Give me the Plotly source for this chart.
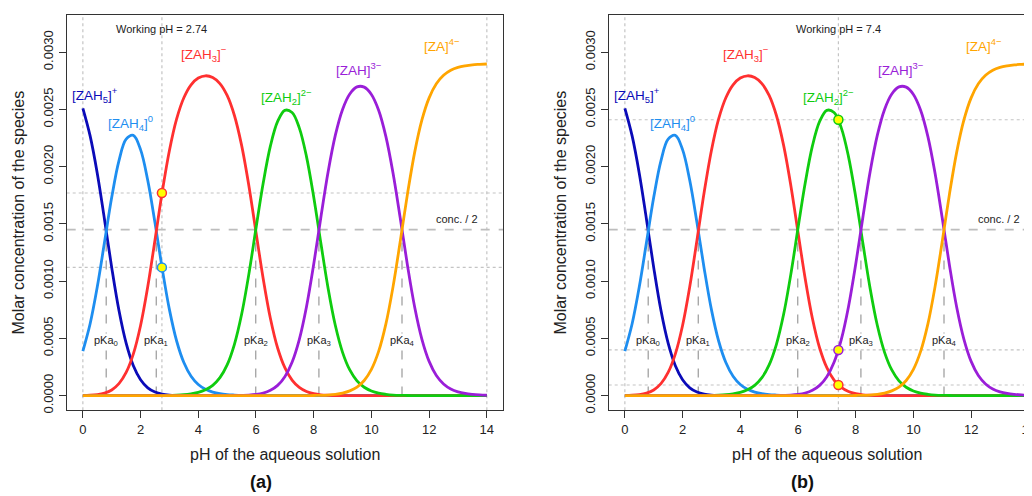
import plotly.graph_objects as go

# ---------------- data ----------------
ph = [0, 0.25, 0.5, 0.75, 1, 1.25, 1.5, 1.75, 2, 2.25, 2.5, 2.75,
      3, 3.25, 3.5, 3.75, 4, 4.25, 4.5, 4.75, 5, 5.25, 5.5, 5.75,
      6, 6.25, 6.5, 6.75, 7, 7.25, 7.5, 7.75, 8, 8.25, 8.5, 8.75,
      9, 9.25, 9.5, 9.75, 10, 10.25, 10.5, 10.75, 11, 11.25, 11.5, 11.75,
      12, 12.25, 12.5, 12.75, 13, 13.25, 13.5, 13.75, 14]

zah5 = [0.002510, 0.002271, 0.001941, 0.001539,
        0.001118, 0.000745, 0.000458, 0.000261,
        0.000139, 0.000068, 0.000031, 0.000013,
        0.000005, 0.000002, 0.000001, 0,
        0, 0, 0, 0,
        0, 0, 0, 0,
        0, 0, 0, 0,
        0, 0, 0, 0,
        0, 0, 0, 0,
        0, 0, 0, 0,
        0, 0, 0, 0,
        0, 0, 0, 0,
        0, 0, 0, 0,
        0, 0, 0, 0,
        0]

zah4 = [0.000389, 0.000626, 0.000951, 0.001340,
        0.001732, 0.002051, 0.002240, 0.002274,
        0.002149, 0.001879, 0.001509, 0.001109,
        0.000751, 0.000477, 0.000289, 0.000169,
        0.000097, 0.000055, 0.000031, 0.000017,
        0.000009, 0.000005, 0.000002, 0.000001,
        0, 0, 0, 0,
        0, 0, 0, 0,
        0, 0, 0, 0,
        0, 0, 0, 0,
        0, 0, 0, 0,
        0, 0, 0, 0,
        0, 0, 0, 0,
        0, 0, 0, 0,
        0]

zah3 = [0.000001, 0.000003, 0.000009, 0.000022,
        0.000049, 0.000104, 0.000202, 0.000365,
        0.000613, 0.000953, 0.001360, 0.001778,
        0.002142, 0.002417, 0.002602, 0.002715,
        0.002774, 0.002794, 0.002779, 0.002726,
        0.002622, 0.002449, 0.002188, 0.001838,
        0.001428, 0.001021, 0.000674, 0.000416,
        0.000244, 0.000136, 0.000072, 0.000036,
        0.000017, 0.000007, 0.000003, 0.000001,
        0, 0, 0, 0,
        0, 0, 0, 0,
        0, 0, 0, 0,
        0, 0, 0, 0,
        0, 0, 0, 0,
        0]

zah2 = [0, 0, 0, 0,
        0, 0, 0, 0,
        0, 0, 0, 0,
        0.000002, 0.000004, 0.000008, 0.000016,
        0.000028, 0.000051, 0.000090, 0.000157,
        0.000268, 0.000446, 0.000708, 0.001057,
        0.001462, 0.001857, 0.002181, 0.002395,
        0.002492, 0.002473, 0.002339, 0.002088,
        0.001735, 0.001329, 0.000936, 0.000612,
        0.000378, 0.000224, 0.000129, 0.000073,
        0.000040, 0.000021, 0.000011, 0.000005,
        0.000002, 0.000001, 0, 0,
        0, 0, 0, 0,
        0, 0, 0, 0,
        0]

zah1 = [0, 0, 0, 0,
        0, 0, 0, 0,
        0, 0, 0, 0,
        0, 0, 0, 0,
        0, 0, 0, 0,
        0, 0.000001, 0.000002, 0.000004,
        0.000010, 0.000022, 0.000046, 0.000089,
        0.000165, 0.000291, 0.000489, 0.000776,
        0.001147, 0.001561, 0.001956, 0.002275,
        0.002500, 0.002635, 0.002697, 0.002695,
        0.002631, 0.002493, 0.002265, 0.001943,
        0.001549, 0.001137, 0.000772, 0.000492,
        0.000299, 0.000176, 0.000102, 0.000058,
        0.000033, 0.000019, 0.000011, 0.000006,
        0.000003]

za = [0, 0, 0, 0,
      0, 0, 0, 0,
      0, 0, 0, 0,
      0, 0, 0, 0,
      0, 0, 0, 0,
      0, 0, 0, 0,
      0, 0, 0, 0,
      0, 0, 0, 0,
      0.000001, 0.000002, 0.000005, 0.000011,
      0.000022, 0.000041, 0.000074, 0.000132,
      0.000229, 0.000386, 0.000624, 0.000952,
      0.001349, 0.001762, 0.002127, 0.002408,
      0.002601, 0.002724, 0.002798, 0.002842,
      0.002867, 0.002881, 0.002890, 0.002894,
      0.002897]

species_labels = ["[ZAH<sub>5</sub>]<sup>+</sup>", "[ZAH<sub>4</sub>]<sup>0</sup>",
                  "[ZAH<sub>3</sub>]<sup>−</sup>", "[ZAH<sub>2</sub>]<sup>2−</sup>",
                  "[ZAH]<sup>3−</sup>", "[ZA]<sup>4−</sup>"]
label_ph = [0.42, 1.66, 4.2, 7.05, 9.58, 12.45]
label_conc = [0.00263, 0.00238, 0.00298, 0.00261, 0.00285, 0.00306]

pka_values = [0.81, 2.545, 5.99, 8.18, 11.06]
pka_labels = ["pKa<sub>0</sub>", "pKa<sub>1</sub>", "pKa<sub>2</sub>", "pKa<sub>3</sub>", "pKa<sub>4</sub>"]
half_conc = 0.00145

working_ph = [2.74, 7.4]
working_labels = ["Working pH = 2.74", "Working pH = 7.4"]
marker_conc_a = [0.00177, 0.00112]
marker_conc_b = [0.00241, 0.000399, 0.0000925]

x_ticks = [0, 2, 4, 6, 8, 10, 12, 14]
y_ticks = [0, 0.0005, 0.0010, 0.0015, 0.0020, 0.0025, 0.0030]
y_ticktext = ["0.0000", "0.0005", "0.0010", "0.0015", "0.0020", "0.0025", "0.0030"]

# ---------------- styles ----------------
colors = ["#0b0bb8", "#1e8ef0", "#ff3030", "#0fcc0f", "#9a1ed8", "#ffa500"]
series = [zah5, zah4, zah3, zah2, zah1, za]
marker_colors_a = [colors[2], colors[1]]
marker_colors_b = [colors[3], colors[4], colors[2]]
FONT = "Liberation Sans, Arial, sans-serif"
TXT = "#222222"
FRAME = "#333333"

W, H = 1032, 496
OFF = 8  # page body margin of the html page


def fx(px):
    return (px - OFF) / W


def fy(py):
    return 1 - (py - OFF) / H


ybot, ytop = 412.7, 14.7
dom_y = [fy(ybot), fy(ytop)]
dom_xa = [fx(66.7), fx(503.0)]
dom_xb = [fx(608.7), 1.0]
px_per_unit = (503.0 - 66.7) / 15.12
xr_a = [-0.56, 14.56]
xr_b = [-0.56, -0.56 + (W + OFF - 608.7) / px_per_unit]
yr = [-0.000128, 0.003328]

fig = go.Figure()

panels = [
    dict(xa="x", ya="y", wph=working_ph[0], wlab=working_labels[0],
         mc=marker_conc_a, mcol=marker_colors_a, title_x=285, ytitle_x=18, tag="(a)", tag_x=261),
    dict(xa="x2", ya="y2", wph=working_ph[1], wlab=working_labels[1],
         mc=marker_conc_b, mcol=marker_colors_b, title_x=826.7, ytitle_x=560, tag="(b)", tag_x=802.7),
]

shapes = []
annotations = []

for i, p in enumerate(panels):
    xa, ya = p["xa"], p["ya"]
    for s, c in zip(series, colors):
        fig.add_trace(go.Scatter(x=ph, y=s, mode="lines", xaxis=xa, yaxis=ya,
                                 line=dict(color=c, width=2.8, shape="spline", smoothing=1.0),
                                 showlegend=False, hoverinfo="skip"))
    fig.add_trace(go.Scatter(x=[p["wph"]] * len(p["mc"]), y=p["mc"], mode="markers",
                             xaxis=xa, yaxis=ya, showlegend=False, hoverinfo="skip",
                             marker=dict(size=9, color="#ffff00",
                                         line=dict(color=p["mcol"], width=1.5))))

    xdom = xa + " domain"
    ydom = ya + " domain"
    for xv in [x_ticks[0], x_ticks[-1], p["wph"]]:
        shapes.append(dict(type="line", xref=xa, yref=ydom, x0=xv, x1=xv, y0=0, y1=1,
                           line=dict(color="#c4c4c4", width=1.2, dash="dot"), layer="below"))
    for yv in p["mc"]:
        shapes.append(dict(type="line", xref=xdom, yref=ya, x0=0, x1=1, y0=yv, y1=yv,
                           line=dict(color="#c4c4c4", width=1.2, dash="dot"), layer="below"))
    shapes.append(dict(type="line", xref=xdom, yref=ya, x0=0, x1=1, y0=half_conc, y1=half_conc,
                       line=dict(color="#bdbdbd", width=1.6, dash="dash"), layer="below"))
    for pk in pka_values:
        shapes.append(dict(type="line", xref=xa, yref=ya, x0=pk, x1=pk, y0=0, y1=half_conc,
                           line=dict(color="#a8a8a8", width=1.4, dash="dash"), layer="below"))

    for lab, lx, ly, c in zip(species_labels, label_ph, label_conc, colors):
        annotations.append(dict(x=lx, y=ly, xref=xa, yref=ya, text=lab, showarrow=False,
                                xanchor="center", yanchor="middle",
                                font=dict(family=FONT, size=13.5, color=c)))
    for pk, lab in zip(pka_values, pka_labels):
        annotations.append(dict(x=pk, y=0.00048, xref=xa, yref=ya, text=lab, showarrow=False,
                                xanchor="center", yanchor="middle", bgcolor="white", borderpad=0,
                                font=dict(family=FONT, size=11, color=TXT)))
    annotations.append(dict(x=13.76, y=0.00154, xref=xa, yref=ya, text="conc. / 2",
                            showarrow=False, xanchor="right", yanchor="middle",
                            font=dict(family=FONT, size=11, color=TXT)))
    annotations.append(dict(x=p["wph"], y=0.0032, xref=xa, yref=ya, text=p["wlab"],
                            showarrow=False, xanchor="center", yanchor="middle",
                            font=dict(family=FONT, size=11, color=TXT)))
    annotations.append(dict(x=fx(p["title_x"]), y=fy(457), xref="paper", yref="paper",
                            text="pH of the aqueous solution", showarrow=False,
                            xanchor="center", yanchor="middle",
                            font=dict(family=FONT, size=16, color=TXT)))
    annotations.append(dict(x=fx(p["ytitle_x"]), y=fy(213.7), xref="paper", yref="paper",
                            text="Molar concentration of the species", showarrow=False,
                            xanchor="center", yanchor="middle",
                            textangle=-90, font=dict(family=FONT, size=16, color=TXT)))
    annotations.append(dict(x=fx(p["tag_x"]), y=fy(485), xref="paper", yref="paper",
                            text="<b>" + p["tag"] + "</b>", showarrow=False,
                            xanchor="center", yanchor="middle",
                            font=dict(family=FONT, size=18, color="#111111")))

axis_common = dict(showgrid=False, zeroline=False, showline=True, linecolor=FRAME, linewidth=1.4,
                   ticks="outside", ticklen=7, tickwidth=1.2, tickcolor=FRAME,
                   tickfont=dict(family=FONT, size=13, color=TXT))

fig.update_layout(
    width=W, height=H,
    margin=dict(l=0, r=0, t=0, b=0),
    paper_bgcolor="white", plot_bgcolor="white",
    xaxis=dict(domain=dom_xa, range=xr_a, tickvals=x_ticks, anchor="y", mirror=True, **axis_common),
    yaxis=dict(domain=dom_y, range=yr, tickvals=y_ticks, ticktext=y_ticktext, tickangle=-90,
               anchor="x", mirror=True, **axis_common),
    xaxis2=dict(domain=dom_xb, range=xr_b, tickvals=x_ticks, anchor="y2", mirror=True, **axis_common),
    yaxis2=dict(domain=dom_y, range=yr, tickvals=y_ticks, ticktext=y_ticktext, tickangle=-90,
                anchor="x2", mirror=False, **axis_common),
    shapes=shapes,
    annotations=annotations,
)

fig.write_html("out.html")
